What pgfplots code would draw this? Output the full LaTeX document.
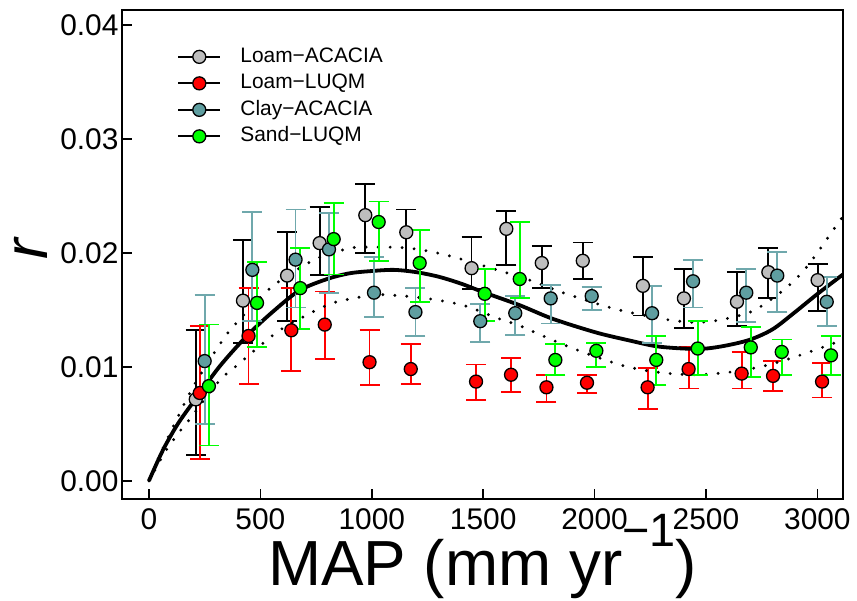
\documentclass[border=0pt]{standalone}
\usepackage{pgfplots}
\pgfplotsset{compat=1.18}
\usepackage{pgfplotstable}
\usepackage{fontspec}
\setmainfont{Liberation Sans}
\definecolor{cgray}{HTML}{BEBEBE}
\definecolor{cred}{HTML}{FF0000}
\definecolor{cteal}{HTML}{5F9EA0}
\definecolor{ctealbar}{HTML}{6FA8AC}
\definecolor{cgreen}{HTML}{00FF00}

\pgfplotstableread{
x y ep em
210 0.00714 0.0061 0.0049
422 0.0158 0.0053 0.0037
620 0.0180 0.0038 0.0040
766 0.02085 0.0032 0.0028
971 0.0233 0.0027 0.0033
1155 0.0218 0.0020 0.0034
1448 0.01865 0.0027 0.0018
1604 0.0221 0.0016 0.0032
1763 0.0191 0.0015 0.0022
1947 0.0193 0.0016 0.0016
2217 0.0171 0.0025 0.0026
2401 0.0160 0.0026 0.0026
2639 0.0157 0.0026 0.0021
2780 0.0183 0.0021 0.0023
3001 0.0176 0.0014 0.0027
}\loamacacia

\pgfplotstableread{
x y ep em
228 0.0077 0.0059 0.0058
447 0.0127 0.0042 0.0042
639 0.0132 0.0037 0.0036
789 0.0137 0.0029 0.0030
990 0.0104 0.0028 0.0020
1175 0.0098 0.0022 0.0013
1468 0.0087 0.0015 0.0016
1625 0.0093 0.0015 0.0015
1784 0.0082 0.0011 0.0013
1966 0.0086 0.0007 0.0009
2238 0.0082 0.0017 0.0019
2422 0.0098 0.0019 0.0017
2660 0.0094 0.0019 0.0013
2801 0.0092 0.0013 0.0013
3021 0.0087 0.0016 0.0014
}\loamluqm

\pgfplotstableread{
x y ep em
250 0.0105 0.0058 0.0055
464 0.0185 0.0051 0.0045
658 0.0194 0.0044 0.0042
808 0.0203 0.0032 0.0038
1010 0.0165 0.0031 0.0021
1196 0.0148 0.0021 0.0021
1487 0.0140 0.0015 0.0018
1644 0.0147 0.0015 0.0019
1803 0.0160 0.0012 0.0022
1987 0.0162 0.0008 0.0012
2258 0.0147 0.0024 0.0026
2442 0.0175 0.0019 0.0023
2681 0.0165 0.0021 0.0026
2820 0.0180 0.0021 0.0032
3042 0.0157 0.0022 0.0021
}\clayacacia

\pgfplotstableread{
x y ep em
269 0.0083 0.0054 0.0052
485 0.0156 0.0036 0.0039
679 0.0169 0.0035 0.0036
829 0.0212 0.0032 0.0031
1031 0.0227 0.0018 0.0034
1215 0.0191 0.0029 0.0034
1507 0.0164 0.0022 0.0024
1664 0.0177 0.0050 0.0017
1824 0.0106 0.0014 0.0013
2008 0.0114 0.0007 0.0014
2277 0.0106 0.0021 0.0022
2463 0.0116 0.0024 0.0023
2701 0.0117 0.0018 0.0026
2840 0.0113 0.0011 0.0020
3061 0.0110 0.0017 0.0017
}\sandluqm

\pgfplotstableread{
x y
0 0
63 0.0027
130 0.0050
210 0.0072
320 0.0101
444 0.0128
560 0.0149
676 0.0167
800 0.0177
900 0.0182
1000 0.0184
1100 0.0185
1200 0.0183
1300 0.0179
1400 0.0173
1507 0.0165
1664 0.0154
1813 0.0142
2008 0.0130
2158 0.0123
2277 0.0118
2400 0.0116
2500 0.0116
2600 0.0119
2701 0.0124
2800 0.0133
2900 0.0148
3001 0.0164
3115 0.0181
}\fitmid

\pgfplotstableread{
x y
0 0
48 0.0022
115 0.0050
200 0.0083
333 0.0124
400 0.0140
557 0.0171
744 0.0194
901 0.0204
1006 0.0205
1170 0.0204
1335 0.0198
1544 0.0186
1709 0.0176
1858 0.0165
2068 0.0152
2200 0.0146
2337 0.0141
2450 0.0139
2561 0.0141
2711 0.0149
2846 0.0167
2928 0.0182
2996 0.0199
3093 0.0226
3115 0.0232
}\fitup

\pgfplotstableread{
x y
0 0
78 0.0027
145 0.0045
183 0.0054
317 0.0088
400 0.0102
572 0.0130
714 0.0146
826 0.0156
916 0.0160
1006 0.0163
1080 0.0163
1245 0.0160
1410 0.0154
1559 0.0143
1664 0.0136
1769 0.0127
1918 0.0115
2128 0.0101
2292 0.0095
2457 0.0093
2636 0.0096
2786 0.0102
2935 0.0111
3093 0.0122
3115 0.0124
}\fitlow

\begin{document}
\begin{tikzpicture}
\useasboundingbox (0,0) rectangle (857bp,601bp);
\begin{axis}[
  at={(122bp,102bp)}, anchor=south west,
  scale only axis, width=721bp, height=489bp,
  xmin=-121, xmax=3115, ymin=-0.0016, ymax=0.0413,
  xtick={0,500,1000,1500,2000,2500,3000},
  ytick={0,0.01,0.02,0.03,0.04},
  xtick pos=left, ytick pos=left,
  tick align=inside,
  major tick length=10bp,
  every tick/.style={black, line width=1.5bp},
  axis line style={line width=1.6bp},
  /pgf/number format/assume math mode=true,
  x tick label style={/pgf/number format/1000 sep={}, font=\fontsize{30}{30}\selectfont, yshift=-6bp},
  y tick label style={/pgf/number format/.cd, fixed, fixed zerofill, precision=2, /tikz/.cd, font=\fontsize{30}{30}\selectfont},
  scaled y ticks=false,
  xlabel={MAP (mm yr\raisebox{0.62em}{\fontsize{47}{47}\selectfont −1})},
  xlabel style={font=\fontsize{64}{64}\selectfont, at={(axis description cs:0.5,-0.177)}, anchor=base},
  ylabel={\itshape r},
  ylabel style={font=\fontsize{62}{62}\selectfont, at={(axis description cs:-0.126,0.511)}, anchor=center},
  legend style={draw=none, fill=none, at={(axis description cs:0.0763,0.924)}, anchor=north west,
    font=\fontsize{21}{21}\selectfont, inner sep=0pt, row sep=7.5bp,
    nodes={inner sep=0pt, text height=15bp, text depth=4bp},
    /tikz/every odd column/.append style={column sep=19bp}},
  legend cell align=left,
  legend image code/.code={
    \draw[black, line width=2.2bp] (0bp,0bp) -- (42bp,0bp);
    \draw[mark repeat=2, mark phase=2, #1] plot coordinates {(0bp,0bp) (21bp,0bp) (42bp,0bp)};
  },
]
% Loam-ACACIA
\addplot+[only marks, mark=*, mark size=6.5bp, mark options={fill=cgray, draw=black, line width=1.3bp},
  error bars/.cd, y dir=both, y explicit,
  error bar style={black, line width=1.8bp},
  error mark options={rotate=90, black, line width=1.8bp, mark size=10bp}]
  table[x=x, y=y, y error plus=ep, y error minus=em] {\loamacacia};
\addlegendentry{Loam−ACACIA}
% Loam-LUQM
\addplot+[only marks, mark=*, mark size=6.5bp, mark options={fill=cred, draw=black, line width=1.3bp},
  error bars/.cd, y dir=both, y explicit,
  error bar style={cred, line width=1.8bp},
  error mark options={rotate=90, cred, line width=1.8bp, mark size=10bp}]
  table[x=x, y=y, y error plus=ep, y error minus=em] {\loamluqm};
\addlegendentry{Loam−LUQM}
% fitted curve and bands
\addplot[forget plot, black, line width=3.8bp, smooth] table[x=x,y=y] {\fitmid};
\addplot[forget plot, black, line width=3.2bp, line cap=round, dash pattern=on 0bp off 12bp, smooth] table[x=x,y=y] {\fitup};
\addplot[forget plot, black, line width=3.2bp, line cap=round, dash pattern=on 0bp off 12bp, smooth] table[x=x,y=y] {\fitlow};
% Clay-ACACIA
\addplot+[only marks, mark=*, mark size=6.5bp, mark options={fill=cteal, draw=black, line width=1.3bp},
  error bars/.cd, y dir=both, y explicit,
  error bar style={ctealbar, line width=1.8bp},
  error mark options={rotate=90, ctealbar, line width=1.8bp, mark size=10bp}]
  table[x=x, y=y, y error plus=ep, y error minus=em] {\clayacacia};
\addlegendentry{Clay−ACACIA}
% Sand-LUQM
\addplot+[only marks, mark=*, mark size=6.5bp, mark options={fill=cgreen, draw=black, line width=1.3bp},
  error bars/.cd, y dir=both, y explicit,
  error bar style={cgreen, line width=1.8bp},
  error mark options={rotate=90, cgreen, line width=1.8bp, mark size=10bp}]
  table[x=x, y=y, y error plus=ep, y error minus=em] {\sandluqm};
\addlegendentry{Sand−LUQM}
\end{axis}
\end{tikzpicture}
\end{document}
